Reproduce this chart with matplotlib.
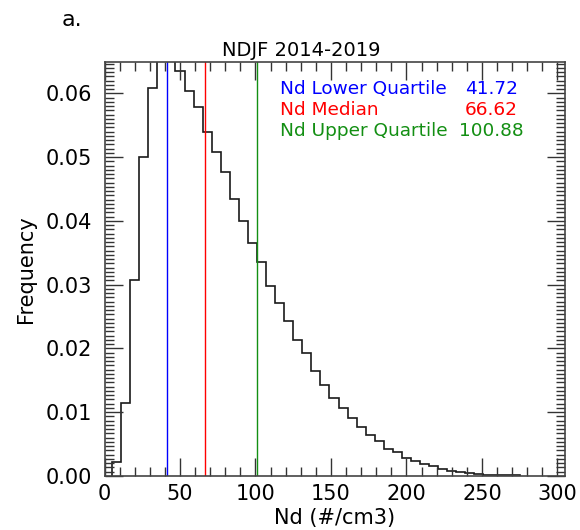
import numpy as np
import matplotlib
matplotlib.use("Agg")
import matplotlib.pyplot as plt
from matplotlib.ticker import MultipleLocator, AutoMinorLocator

# ---- data ----
bin_edges = [5 + 6 * k for k in range(46)]
frequency = [0.0022, 0.0115, 0.0308, 0.0500, 0.0609, 0.0750, 0.0700, 0.0635,
             0.0603, 0.0578, 0.0539, 0.0508, 0.0476, 0.0434, 0.0400, 0.0366,
             0.0335, 0.0298, 0.0272, 0.0243, 0.0214, 0.0193, 0.0165, 0.0143,
             0.0122, 0.0106, 0.0091, 0.0077, 0.0064, 0.0055, 0.0043, 0.0037,
             0.0029, 0.0024, 0.0019, 0.0015, 0.0011, 0.0008, 0.0006, 0.0004,
             0.0003, 0.0002, 0.0002, 0.0001, 0.0001]
stat_names = ["Nd Lower Quartile", "Nd Median", "Nd Upper Quartile"]
stat_values = [41.72, 66.62, 100.88]
stat_colors = ["#0000ff", "#ff0000", "#138f13"]
x_ticks = [0, 50, 100, 150, 200, 250, 300]
y_ticks = [0.00, 0.01, 0.02, 0.03, 0.04, 0.05, 0.06]

plt.rcParams['font.family'] = ['DejaVu Sans']

W, H = 580, 530
fig = plt.figure(figsize=(W / 100, H / 100), dpi=100)
ax = fig.add_axes([104.5 / W, 1 - 476 / H, (565 - 104.5) / W, (476 - 61.5) / H])

ax.stairs(frequency, bin_edges, color="#1a1a1a", linewidth=1.2, baseline=0)
for v, c in zip(stat_values, stat_colors):
    ax.axvline(v, color=c, linewidth=1.0)

ax.set_xlim(0, 305)
ax.set_ylim(0, 0.065)
ax.set_xticks(x_ticks)
ax.set_yticks(y_ticks)
ax.set_yticklabels([f"{t:.2f}" for t in y_ticks])
ax.xaxis.set_minor_locator(MultipleLocator(10))
ax.yaxis.set_minor_locator(AutoMinorLocator(15))

ax.tick_params(axis='both', which='both', direction='in', top=True, right=True,
               color="#333333", labelsize=15)
ax.tick_params(axis='both', which='major', length=13, width=1.0)
ax.tick_params(axis='both', which='minor', length=6.7, width=1.0)
ax.tick_params(axis='x', which='major', pad=6)
ax.tick_params(axis='y', which='major', pad=9)
for s in ax.spines.values():
    s.set_linewidth(1.2)
    s.set_color("#444444")

ax.set_xlabel("Nd (#/cm3)", fontsize=15)
ax.xaxis.set_label_coords(0.5, -0.077)
ax.set_ylabel("Frequency", fontsize=15)
ax.yaxis.label.set_va('center')
ax.yaxis.set_label_coords((26 - 104.5) / 460.5, 0.5)

ax.set_title("NDJF 2014-2019", fontsize=14, x=(301.5 - 104.5) / 460.5, pad=4)
fig.text(62 / W, 1 - 20 / H, "a.", fontsize=16, ha='left', va='center')

ys = [0.933, 0.883, 0.832]
for name, v, c, yy in zip(stat_names, stat_values, stat_colors, ys):
    ax.text(0.381, yy, name, color=c, fontsize=13.3, ha='left', va='center',
            transform=ax.transAxes)
    ax.text(0.840, yy, f"{v:.2f}", color=c, fontsize=13.3, ha='center', va='center',
            transform=ax.transAxes)

fig.savefig("out.png", dpi=100)
